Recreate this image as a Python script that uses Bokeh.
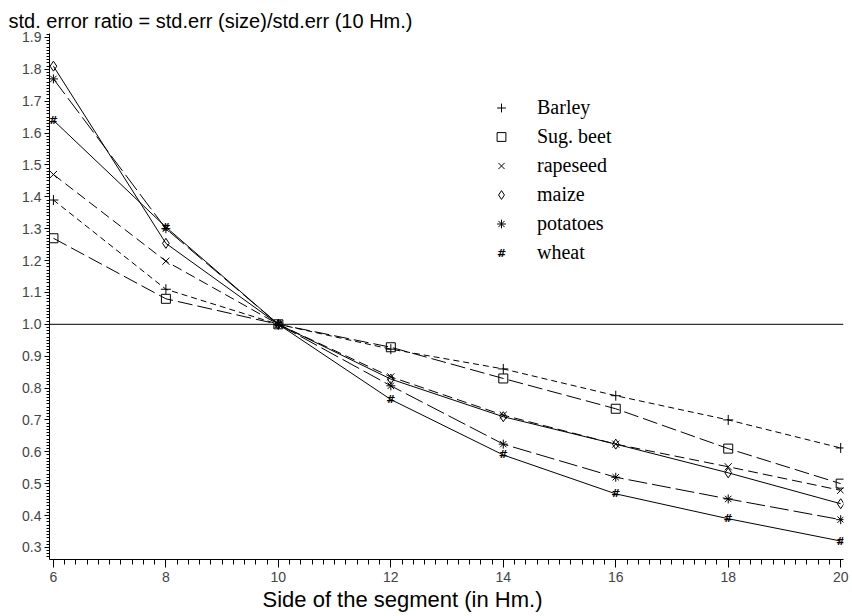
from bokeh.plotting import figure
from bokeh.models import (SingleIntervalTicker, PrintfTickFormatter, Span, Legend,
                          LegendItem, Label, Title)
from bokeh.core.properties import value
from bokeh.embed import file_html
from bokeh.resources import INLINE

# ---------------- data ----------------
SIDE = [6, 8, 10, 12, 14, 16, 18, 20]
BARLEY = [1.39, 1.11, 1.00, 0.922, 0.86, 0.776, 0.70, 0.612]
SUG_BEET = [1.27, 1.08, 1.00, 0.928, 0.83, 0.735, 0.61, 0.50]
RAPESEED = [1.47, 1.198, 1.00, 0.835, 0.715, 0.624, 0.553, 0.479]
MAIZE = [1.81, 1.254, 1.00, 0.828, 0.71, 0.624, 0.534, 0.437]
POTATOES = [1.77, 1.30, 1.00, 0.807, 0.624, 0.52, 0.452, 0.387]
WHEAT = [1.64, 1.305, 1.00, 0.764, 0.59, 0.468, 0.39, 0.32]
REF_LEVEL = 1.0

NAMES = ["Barley", "Sug. beet", "rapeseed", "maize", "potatoes", "wheat"]
TITLE = "std. error ratio = std.err (size)/std.err (10 Hm.)"
XLABEL = "Side of the segment (in Hm.)"

p = figure(width=852, height=616, output_backend="svg", toolbar_location=None,
           x_range=(5.93, 20.05), y_range=(0.262, 1.9125),
           min_border_left=49, min_border_right=9, min_border_top=33,
           min_border_bottom=57)
p.outline_line_color = None
p.xgrid.visible = False
p.ygrid.visible = False
p.background_fill_color = "white"
p.border_fill_color = "white"

# title, flush with the left page edge
p.title.text = TITLE
p.title.text_font = "Liberation Sans"
p.title.text_font_size = "20px"
p.title.text_font_style = "normal"
p.title.text_color = "black"
p.title.align = "left"
p.title.vertical_align = "top"
p.title.offset = -41
p.title.standoff = 0

# axes
xa = p.xaxis[0]
xa.ticker = SingleIntervalTicker(interval=2, num_minor_ticks=10)
xa.major_tick_out = 8
xa.major_tick_in = 0
xa.minor_tick_out = 5
xa.minor_tick_in = 0
xa.major_label_standoff = 4
xa.major_label_text_font = "Liberation Sans"
xa.major_label_text_font_size = "14px"
xa.major_label_text_color = "#444444"
xa.axis_line_color = "black"

# x-axis caption, left-shifted as in the original
p.add_layout(Title(text=XLABEL, align="left", offset=213,
                   text_font="Liberation Sans", text_font_size="22px",
                   text_font_style="normal", text_color="black",
                   standoff=0), "below")

ya = p.yaxis[0]
ya.ticker = SingleIntervalTicker(interval=0.1, num_minor_ticks=10)
ya.formatter = PrintfTickFormatter(format="%.1f")
ya.major_tick_out = 5
ya.major_tick_in = 0
ya.minor_tick_out = 3
ya.minor_tick_in = 0
ya.major_label_standoff = 3
ya.major_label_text_font = "Liberation Sans"
ya.major_label_text_font_size = "14px"
ya.major_label_text_color = "#444444"
ya.axis_line_color = "black"

p.add_layout(Span(location=REF_LEVEL, dimension="width", line_color="black",
                  line_width=1))

series = [BARLEY, SUG_BEET, RAPESEED, MAIZE, POTATOES, WHEAT]
dashes = ["6 4", "15 5", "10 5", "solid", "19 5", "solid"]
markers = ["cross", "square", "x", "diamond", "asterisk", None]
sizes = [10, 9, 10, 10, 9, None]

legend_renderers = []
for vals, dash, mk, sz in zip(series, dashes, markers, sizes):
    p.line(SIDE, vals, line_color="black", line_width=1, line_dash=dash)
    if mk is not None:
        r = p.scatter(SIDE, vals, marker=mk, size=sz, fill_color=None,
                      line_color="black", line_width=1)
    else:
        r = p.text(SIDE, vals, text=["#"] * len(SIDE), text_align="center",
                   text_baseline="middle", text_font=value("DejaVu Sans"),
                   text_font_size="11px", text_font_style="bold",
                   text_color="black")
    legend_renderers.append(r)

LEG_X, LEG_Y = 441, 292
GW, GH = 22, 29
legend = Legend(items=[LegendItem(label=n, renderers=[r])
                       for n, r in zip(NAMES, legend_renderers)],
                location=(LEG_X, LEG_Y), orientation="vertical",
                glyph_width=GW, glyph_height=GH, label_standoff=25, spacing=0,
                padding=0, margin=0, border_line_color=None,
                background_fill_alpha=0, label_text_font="Liberation Serif",
                label_text_font_size="20px", label_text_color="black",
                label_text_baseline="middle", label_height=GH)
p.add_layout(legend, "center")

# "#" glyph for the wheat legend entry (text glyphs have no legend swatch)
p.add_layout(Label(x=LEG_X + GW / 2, y=LEG_Y + GH / 2, x_units="screen",
                   y_units="screen", text="#", text_align="center",
                   text_baseline="middle", text_font="DejaVu Sans",
                   text_font_size="11px", text_font_style="bold",
                   text_color="black"))

open("out.html", "w").write(file_html(p, INLINE))
